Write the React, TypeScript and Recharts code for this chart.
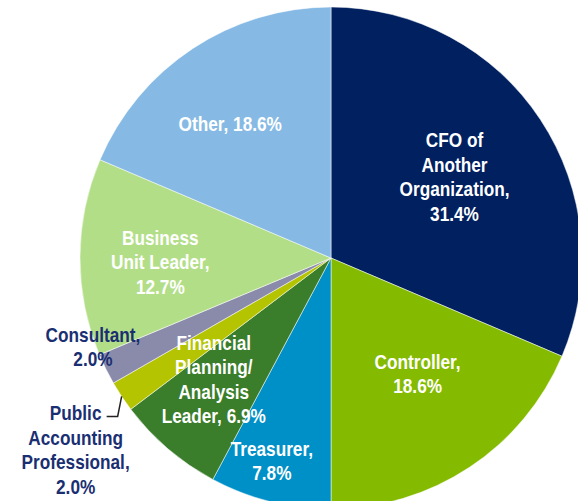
import React from "react"
import { PieChart, Pie, Cell } from "recharts"

const categories = [
  "CFO of Another Organization",
  "Controller",
  "Treasurer",
  "Financial Planning/Analysis Leader",
  "Public Accounting Professional",
  "Consultant",
  "Business Unit Leader",
  "Other",
]
const shares = [31.4, 18.6, 7.8, 6.9, 2.0, 2.0, 12.7, 18.6]
const labelLines = [
  ["CFO of", "Another", "Organization,", "31.4%"],
  ["Controller,", "18.6%"],
  ["Treasurer,", "7.8%"],
  ["Financial", "Planning/", "Analysis", "Leader, 6.9%"],
  ["Public", "Accounting", "Professional,", "2.0%"],
  ["Consultant,", "2.0%"],
  ["Business", "Unit Leader,", "12.7%"],
  ["Other, 18.6%"],
]

const COLORS = ["#002060", "#84bb00", "#0090c8", "#3a7d2a", "#b5c400", "#8a8aaa", "#b3de88", "#86bae4"]

// label placement: fraction of radius along mid angle, then a nudge
const LABEL_POS = [
  { r: 0.59, dx: 0, dy: 0, inside: true },
  { r: 0.575, dx: 7, dy: -5, inside: true },
  { r: 0.84, dx: -8, dy: -2, inside: true },
  { r: 0.67, dx: -8, dy: -7, inside: true },
  { r: 1.0, dx: -46, dy: 53, inside: false, leader: true },
  { r: 1.0, dx: -13, dy: -23, inside: false },
  { r: 0.68, dx: 0, dy: 4, inside: true },
  { r: 0.67, dx: -8, dy: 6, inside: true },
]

const data = categories.map((name, i) => ({ name, value: shares[i] }))

const RAD = Math.PI / 180
const LH = 24.5
const SQUEEZE = 0.82 // narrow font look

const renderLabel = (props: any) => {
  const { cx, cy, midAngle, outerRadius, index } = props
  const pos = LABEL_POS[index]
  const rr = outerRadius * pos.r
  const ax = cx + rr * Math.cos(-midAngle * RAD)
  const ay = cy + rr * Math.sin(-midAngle * RAD)
  const x = ax + pos.dx
  const y = ay + pos.dy
  const lines = labelLines[index]
  const top = y - ((lines.length - 1) * LH) / 2
  return (
    <g key={`lbl-${index}`}>
      {pos.leader && (
        <polyline
          points={`${ax},${ay} ${ax - 4},${ay + 20} ${ax - 15},${ay + 20}`}
          fill="none"
          stroke="#222"
          strokeWidth={1.5}
        />
      )}
      <text
        x={x}
        y={top}
        transform={`matrix(${SQUEEZE},0,0,1,${x * (1 - SQUEEZE)},0)`}
        textAnchor="middle"
        dominantBaseline="central"
        fill={pos.inside ? "#ffffff" : "#1a2f72"}
        fontFamily="'Liberation Sans', Arial, sans-serif"
        fontWeight="bold"
        fontSize={21}
      >
        {lines.map((l, j) => (
          <tspan key={j} x={x} y={top + j * LH}>
            {l}
          </tspan>
        ))}
      </text>
    </g>
  )
}

export default function App() {
  return (
    <div style={{ position: "absolute", left: 0, top: 0, width: 578, height: 501, background: "#fff" }}>
      <PieChart width={578} height={501} margin={{ top: 0, right: 0, bottom: 0, left: 0 }}>
        <Pie
          data={data}
          dataKey="value"
          nameKey="name"
          cx={331}
          cy={258}
          outerRadius={251}
          startAngle={90}
          endAngle={-270}
          stroke="#ffffff"
          strokeWidth={0.5}
          label={renderLabel}
          labelLine={false}
          isAnimationActive={false}
        >
          {data.map((entry, index) => (
            <Cell key={`cell-${index}`} fill={COLORS[index]} />
          ))}
        </Pie>
      </PieChart>
    </div>
  )
}
